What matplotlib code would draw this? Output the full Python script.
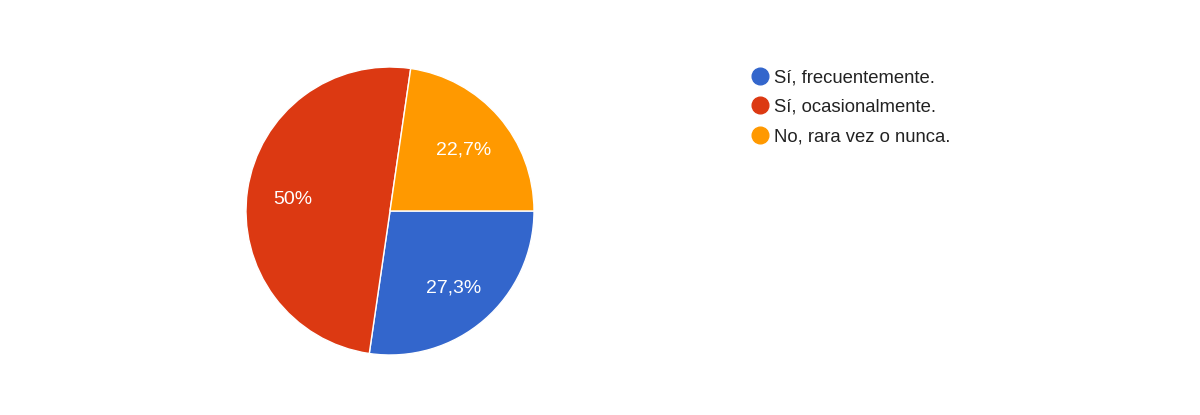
import matplotlib.pyplot as plt
import numpy as np
from matplotlib.lines import Line2D

labels = ["Sí, frecuentemente.", "Sí, ocasionalmente.", "No, rara vez o nunca."]
values = [27.3, 50.0, 22.7]
pct_labels = ["27,3%", "50%", "22,7%"]
colors = ["#3366CC", "#DC3912", "#FF9900"]

plt.rcParams["font.family"] = ["Liberation Sans", "DejaVu Sans"]

W, H = 1200, 415
fig = plt.figure(figsize=(W / 100, H / 100), dpi=100)
fig.patch.set_facecolor("white")

cx, cy, r = 390, 211, 144
ax = fig.add_axes([(cx - r) / W, (H - cy - r) / H, 2 * r / W, 2 * r / H])

wedges, _ = ax.pie(
    values,
    colors=colors,
    startangle=0,
    counterclock=False,
    wedgeprops={"edgecolor": "white", "linewidth": 1},
)
ax.set_xlim(-1, 1)
ax.set_ylim(-1, 1)
ax.set_aspect("equal")

# percentage labels at the middle angle of each wedge
for w, txt in zip(wedges, pct_labels):
    ang = np.deg2rad((w.theta1 + w.theta2) / 2)
    ax.text(0.68 * np.cos(ang), 0.68 * np.sin(ang) - 0.02, txt,
            ha="center", va="center", color="white", fontsize=14)

handles = [
    Line2D([], [], marker="o", linestyle="none", markersize=12,
           markerfacecolor=c, markeredgecolor=c)
    for c in colors
]
fig.legend(
    handles, labels,
    loc="upper left",
    bbox_to_anchor=(742 / W, 1 - 62 / H),
    frameon=False,
    fontsize=13.3,
    labelcolor="#222222",
    handletextpad=0.25,
    handlelength=1.1,
    labelspacing=0.68,
    borderaxespad=0,
)

fig.savefig("out.png", dpi=100, facecolor="white")
